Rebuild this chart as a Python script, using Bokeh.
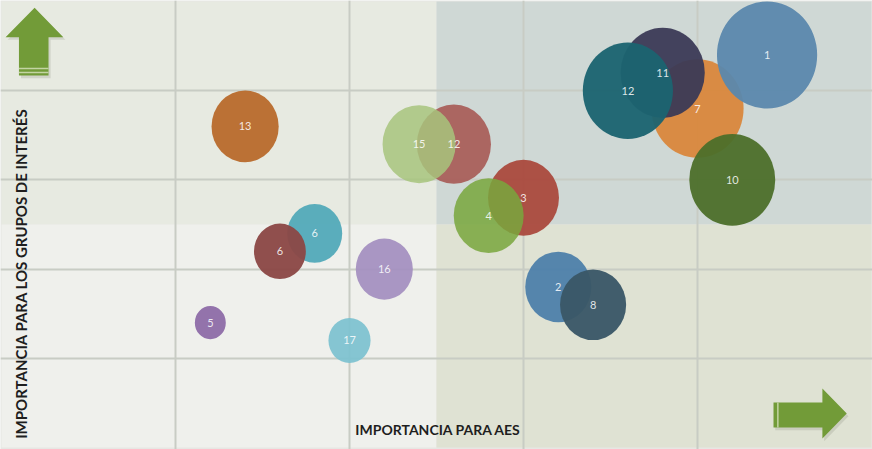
import math
from bokeh.plotting import figure
from bokeh.models import ColumnDataSource, Range1d, Grid, FixedTicker, Label
from bokeh.core.properties import value
from bokeh.embed import file_html
from bokeh.resources import INLINE

# ---- data (drawing order: back to front) ----
labels = ["7", "1", "11", "12", "10", "3", "4", "12", "15", "2", "8", "13", "6", "6", "16", "5", "17"]
imp_aes = [4.0, 4.4, 3.8, 3.6, 4.2, 3.0, 2.8, 2.6, 2.4, 3.2, 3.4, 1.4, 1.8, 1.6, 2.2, 1.2, 2.0]
imp_grupos = [3.8, 4.4, 4.2, 4.0, 3.0, 2.8, 2.6, 3.4, 3.4, 1.8, 1.6, 3.6, 2.4, 2.2, 2.0, 1.4, 1.2]
bubble_size = [0.265, 0.288, 0.242, 0.259, 0.247, 0.204, 0.201, 0.213, 0.210, 0.190, 0.190,
               0.193, 0.158, 0.149, 0.164, 0.089, 0.121]
colors = ["#d9873c", "#5b88ad", "#3b3a56", "#1c6470", "#4c6f2a", "#a9463a", "#79a63e",
          "#a85d58", "#a7c47c", "#4d80aa", "#3a5767", "#b86a2b", "#4fa8b8", "#8b4846",
          "#a48fbf", "#8d6ca8", "#7dc2d0"]
alphas = [0.95, 0.95, 0.95, 0.96, 0.95, 0.93, 0.86, 0.93, 0.85, 0.95, 0.96,
          0.95, 0.93, 0.96, 0.93, 0.95, 0.93]

x_title = "IMPORTANCIA  PARA AES"
y_title = "IMPORTANCIA  PARA LOS GRUPOS DE INTERÉS"

W, H = 872, 449
XMAX, YMAX = 5, 5
x0, x1 = -0.006, 5.006
y0, y1 = -0.022, 5.011

p = figure(width=W, height=H, x_range=Range1d(x0, x1), y_range=Range1d(y0, y1),
           output_backend="svg", toolbar_location=None,
           x_axis_location=None, y_axis_location=None, min_border=0)
p.outline_line_color = None
p.background_fill_color = "#e6e7e3"
p.border_fill_color = "#ffffff"
p.xgrid.grid_line_color = None
p.ygrid.grid_line_color = None

# quadrant backgrounds
mid = 2.5
quad_src = ColumnDataSource(dict(
    left=[0, mid, 0, mid], right=[mid, XMAX, mid, XMAX],
    bottom=[mid, mid, 0, 0], top=[YMAX, YMAX, mid, mid],
    color=["#e7eae1", "#cfd8d5", "#eff0ec", "#dfe2d3"]))
p.quad(left="left", right="right", bottom="bottom", top="top", fill_color="color",
       line_color=None, source=quad_src, level="image")

# grid
gx = Grid(dimension=0, ticker=FixedTicker(ticks=[1, 2, 3, 4]),
          grid_line_color="#c8ccc4", grid_line_width=2)
gy = Grid(dimension=1, ticker=FixedTicker(ticks=[1, 2, 3, 4]),
          grid_line_color="#c8ccc4", grid_line_width=2)
p.add_layout(gx, "center")
p.add_layout(gy, "center")

# bubbles
aspect = (W / (x1 - x0)) / (H / (y1 - y0))
src = ColumnDataSource(dict(
    x=imp_aes, y=imp_grupos, label=labels, color=colors, alpha=alphas,
    w=[2 * s for s in bubble_size],
    h=[2 * s * 1.07 * aspect for s in bubble_size]))
p.ellipse(x="x", y="y", width="w", height="h", fill_color="color", fill_alpha="alpha",
          line_color=None, source=src)
p.text(x="x", y="y", text="label", source=src, text_align="center", text_baseline="middle",
       text_font=value("Lato"), text_font_size="11px", text_color="#ffffff", text_alpha=0.85)

# arrows (decoration)
arrow_green = "#729b38"
shadow = "#8a8f80"
up_x = [0.10, 0.10, 0.023, 0.19, 0.355, 0.27, 0.27]
up_y = [4.17, 4.60, 4.60, 4.93, 4.60, 4.60, 4.17]
p.patch([v + 0.012 for v in up_x], [v - 0.03 for v in up_y], fill_color=shadow,
        fill_alpha=0.25, line_color=None)
p.patch(up_x, up_y, fill_color=arrow_green, line_color=None)
p.segment(x0=[0.10, 0.10], y0=[4.25, 4.205], x1=[0.27, 0.27], y1=[4.25, 4.205],
          line_color="#c3d4a3", line_width=1.5)

rt_x = [4.437, 4.718, 4.718, 4.858, 4.718, 4.718, 4.437]
rt_y = [0.224, 0.224, 0.10, 0.382, 0.661, 0.504, 0.504]
p.patch([v + 0.01 for v in rt_x], [v - 0.03 for v in rt_y], fill_color=shadow,
        fill_alpha=0.25, line_color=None)
p.patch(rt_x, rt_y, fill_color=arrow_green, line_color=None)
p.segment(x0=[4.462], y0=[0.224], x1=[4.462], y1=[0.504],
          line_color="#c3d4a3", line_width=1.5)

# titles
p.add_layout(Label(x=2.52, y=0.20, text=x_title, text_align="center",
                   text_baseline="middle", text_font="Lato", text_font_style="bold",
                   text_font_size="14px", text_color="#1e1e1e"))
p.add_layout(Label(x=0.11, y=1.97, text=y_title, angle=math.pi / 2, text_align="center",
                   text_baseline="middle", text_font="Lato", text_font_style="bold",
                   text_font_size="15px", text_color="#1e1e1e"))

open("out.html", "w").write(file_html(p, INLINE))
